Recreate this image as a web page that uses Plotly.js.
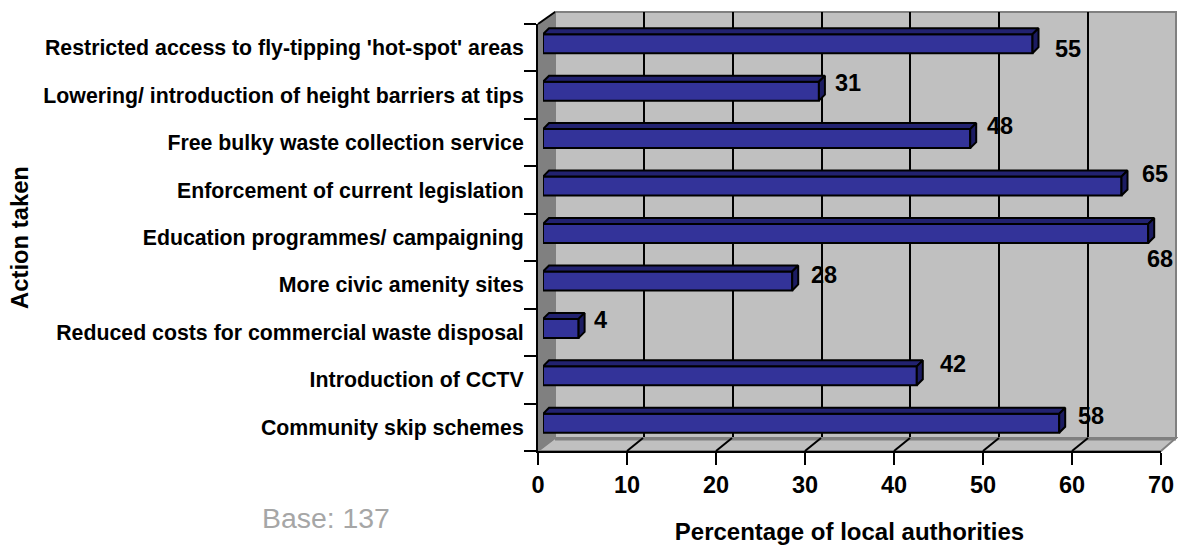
<!DOCTYPE html>
<html><head><meta charset="utf-8">
<script src="https://cdn.plot.ly/plotly-3.0.1.min.js"></script>
<style>html,body{margin:0;padding:0;background:#fff}</style></head>
<body><div id="c" style="width:1178px;height:546px"></div>
<script>
// listed bottom to top, as on the axis
const categories = ["Community skip schemes","Introduction of CCTV","Reduced costs for commercial waste disposal","More civic amenity sites","Education programmes/ campaigning","Enforcement of current legislation","Free bulky waste collection service","Lowering/ introduction of height barriers at tips","Restricted access to fly-tipping 'hot-spot' areas"];
const percentages = [58,42,4,28,68,65,48,31,55];
const xTicks = [0,10,20,30,40,50,60,70];
// label nudges in pixels from each bar's end
const labelDx = [32,36,22,32,12,33,30,29,35];
const labelDy = [7,12,8,6,-25,12,13,8,-5.5];

const W=1178,H=546,L=538,T=12,B=451;
const plotW=W-L, plotH=B-T;
const fx=p=>(p-L)/plotW, fy=p=>(B-p)/plotH;
const pxPerUnit=8.9, rowPx=47.44, depth=6, half=0.2;
const dx=depth/pxPerUnit, dy=depth/rowPx;

let topX=[],topY=[],sideX=[],sideY=[];
percentages.forEach((v,i)=>{
  topX.push(0,v,v+dx,dx,0,null);
  topY.push(i+half,i+half,i+half+dy,i+half+dy,i+half,null);
  sideX.push(v,v+dx,v+dx,v,v,null);
  sideY.push(i-half,i-half+dy,i+half+dy,i+half,i-half,null);
});
const face=(x,y,c)=>({type:'scatter',x,y,xaxis:'x3',yaxis:'y3',mode:'lines',fill:'toself',fillcolor:c,
  line:{color:'#000',width:2},hoverinfo:'skip',showlegend:false,cliponaxis:false});

const traces=[
 {type:'scatter',mode:'none',x:percentages,y:categories,xaxis:'x',yaxis:'y',hoverinfo:'skip',showlegend:false},
 {type:'scatter',mode:'none',x:percentages,y:categories.map((c,i)=>i),xaxis:'x2',yaxis:'y2',hoverinfo:'skip',showlegend:false},
 face(topX,topY,'#222270'),
 face(sideX,sideY,'#1c1c62'),
 {type:'bar',orientation:'h',x:percentages,y:categories.map((c,i)=>i),width:half*2,xaxis:'x3',yaxis:'y3',
  marker:{color:'#333399',line:{color:'#000',width:2}},hoverinfo:'skip',showlegend:false,cliponaxis:false}
];

const poly=(pts,fill,line,lw)=>({type:'path',xref:'paper',yref:'paper',layer:'below',
  path:'M'+pts.map(p=>fx(p[0])+','+fy(p[1])).join('L')+'Z',fillcolor:fill,line:{color:line,width:lw}});
const seg=(a,b,c,w)=>({type:'line',xref:'paper',yref:'paper',layer:'below',
  x0:fx(a[0]),y0:fy(a[1]),x1:fx(b[0]),y1:fy(b[1]),line:{color:c,width:w}});

const shapes=[
 poly([[555,12],[1176,12],[1176,438],[555,438]],'#c0c0c0','#808080',2),
 poly([[538,451],[555,438],[1176,438],[1161,451]],'#c0c0c0','#808080',2),
 poly([[538,24],[555,12],[555,438],[538,451]],'#808080','#808080',1),
 seg([555,439],[1176,439],'#808080',3),
 seg([538,24],[555,12],'#000',2)
];
xTicks.slice(1,-1).forEach(t=>{
  const a=538+t*pxPerUnit;
  shapes.push(seg([a,451],[a+16,438],'#000',2));
});

const font={family:'"Liberation Sans",Arial,sans-serif',color:'#000'};
const annotations=percentages.map((v,i)=>({xref:'x3',yref:'y3',x:v,y:i,xshift:labelDx[i],yshift:labelDy[i],
  text:'<b>'+v+'</b>',showarrow:false,xanchor:'center',yanchor:'middle',font:{...font,size:23.5}}));
annotations.push({xref:'paper',yref:'paper',x:fx(326),y:fy(518),text:'Base: 137',showarrow:false,xanchor:'center',yanchor:'middle',
  font:{...font,size:28.4,color:'#a6a6a6'}});

const layout={
 width:W,height:H,margin:{l:L,r:0,t:T,b:H-B,pad:0},paper_bgcolor:'#fff',plot_bgcolor:'rgba(0,0,0,0)',showlegend:false,
 xaxis:{domain:[0,623/plotW],range:[0,70],anchor:'y',tickmode:'array',tickvals:xTicks,ticks:'outside',ticklen:12,tickwidth:2,tickcolor:'#000',
   showline:true,linecolor:'#000',linewidth:2,showgrid:false,zeroline:false,
   tickfont:{...font,size:23.5,weight:'bold'},
   title:{text:'<b>Percentage of local authorities</b>',font:{...font,size:24},standoff:26}},
 yaxis:{domain:[0,(B-24)/plotH],type:'category',categoryorder:'array',categoryarray:categories,range:[-0.5,8.5],anchor:'x',
   tickson:'boundaries',ticks:'outside',ticklen:12,tickwidth:2,tickcolor:'#000',showline:true,linecolor:'#000',linewidth:2,showgrid:false,zeroline:false,
   ticklabelstandoff:8,
   tickfont:{...font,size:21.3,weight:'bold'},
   title:{text:'<b>Action taken</b>',font:{...font,size:23.8},standoff:8}},
 xaxis2:{domain:[17/plotW,1-1/plotW],range:[0,70],anchor:'y2',tickmode:'array',tickvals:xTicks.slice(1,-1),showticklabels:false,ticks:'',
   showgrid:true,gridcolor:'#000',gridwidth:2,zeroline:false,showline:false},
 yaxis2:{domain:[(B-437)/plotH,1],range:[0,1],anchor:'x2',showticklabels:false,ticks:'',showgrid:false,zeroline:false,showline:false},
 xaxis3:{domain:[5/plotW,(623+5)/plotW],range:[0,70],anchor:'y3',visible:false},
 yaxis3:{domain:[4/plotH,(B-24+4)/plotH],range:[-0.5,8.5],anchor:'x3',visible:false},
 barmode:'overlay',shapes,annotations
};
Plotly.newPlot('c',traces,layout,{displayModeBar:false,staticPlot:true});
</script></body></html>
